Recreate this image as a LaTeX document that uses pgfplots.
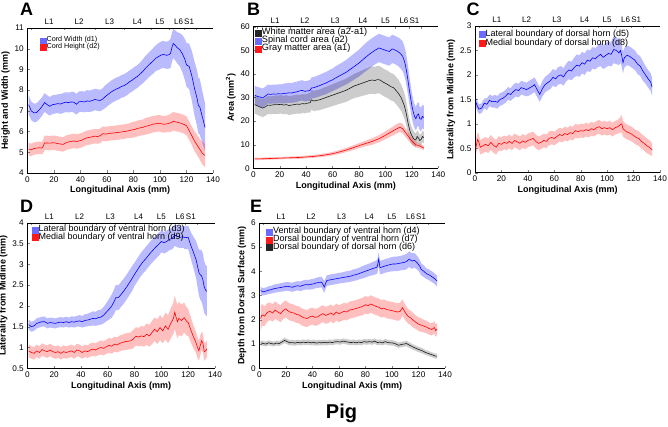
\documentclass[border=0pt]{standalone}
\usepackage{fontspec}
\setmainfont{Liberation Sans}
\usepackage{pgfplots}
\usepackage{pgfplotstable}
\usepgfplotslibrary{fillbetween}
\pgfplotsset{compat=1.18}

\definecolor{lblue}{rgb}{0,0,1}
\definecolor{lred}{rgb}{1,0,0}
\definecolor{lblack}{rgb}{0.1,0.1,0.1}
\definecolor{legblue}{rgb}{0.42,0.42,1}
\definecolor{legred}{rgb}{1,0.1,0.1}
\definecolor{legblack}{rgb}{0.15,0.15,0.15}

% ---------------- data: x (mm), mean m, half-width s ----------------
\pgfplotstableread{
x m s
1 7.30 0.45
2 7.15 0.45
3 7.00 0.45
5 6.90 0.45
7 6.92 0.45
9 7.05 0.45
11 7.20 0.45
13 7.40 0.45
15 7.30 0.45
17 7.22 0.45
19 7.30 0.45
21 7.32 0.45
23 7.35 0.45
25 7.33 0.48
27 7.38 0.48
29 7.42 0.48
31 7.40 0.48
33 7.43 0.48
35 7.42 0.50
37 7.32 0.50
39 7.44 0.50
41 7.45 0.50
43 7.43 0.50
45 7.48 0.52
47 7.46 0.52
49 7.50 0.52
51 7.55 0.52
53 7.52 0.52
55 7.50 0.52
57 7.58 0.52
59 7.70 0.55
61 7.80 0.55
63 7.90 0.55
65 7.98 0.55
67 8.05 0.55
69 8.10 0.55
71 8.18 0.55
73 8.22 0.55
75 8.30 0.55
77 8.40 0.55
79 8.48 0.55
81 8.58 0.55
83 8.66 0.55
85 8.78 0.55
87 8.90 0.58
89 9.05 0.60
91 9.18 0.60
93 9.30 0.60
95 9.42 0.62
97 9.55 0.62
99 9.62 0.65
101 9.70 0.65
103 9.72 0.65
105 9.68 0.65
107 9.72 0.68
108 9.78 0.70
109 10.05 0.70
110 10.25 0.70
111 10.20 0.72
113 10.05 0.75
115 9.95 0.80
117 9.75 0.90
119 9.45 1.00
120 9.22 1.05
122 9.15 1.10
124 8.70 1.20
126 8.10 1.30
128 7.60 1.35
129 7.25 1.35
130 7.20 1.35
132 6.70 1.25
134 6.20 1.15
}\tAw
\pgfplotstableread{
x m s
1 5.15 0.30
3 5.12 0.30
5 5.18 0.30
7 5.20 0.30
9 5.22 0.30
11 5.20 0.30
12 5.30 0.32
13 5.45 0.35
15 5.45 0.35
17 5.44 0.35
19 5.46 0.35
21 5.45 0.35
23 5.42 0.35
25 5.40 0.35
27 5.38 0.35
29 5.45 0.35
31 5.50 0.35
33 5.52 0.35
35 5.55 0.35
37 5.52 0.35
39 5.55 0.35
41 5.58 0.35
43 5.65 0.35
45 5.70 0.35
47 5.72 0.35
49 5.75 0.35
51 5.78 0.35
53 5.76 0.35
55 5.80 0.35
57 5.90 0.35
59 5.88 0.35
61 5.90 0.35
63 5.92 0.35
65 5.93 0.35
67 5.95 0.35
69 5.96 0.35
71 5.98 0.35
73 6.00 0.35
75 6.02 0.35
77 6.05 0.35
79 6.08 0.38
81 6.10 0.38
83 6.15 0.38
85 6.18 0.38
87 6.20 0.38
89 6.25 0.40
91 6.28 0.40
93 6.32 0.40
95 6.36 0.40
97 6.38 0.40
99 6.40 0.40
101 6.38 0.40
103 6.35 0.40
105 6.37 0.40
107 6.40 0.42
109 6.45 0.45
110 6.50 0.45
112 6.46 0.45
114 6.44 0.45
116 6.40 0.45
118 6.35 0.45
120 6.28 0.45
122 6.05 0.45
124 5.80 0.45
126 5.55 0.48
128 5.35 0.50
130 5.15 0.50
132 4.95 0.55
134 4.85 0.55
}\tAh
\pgfplotstableread{
x m s
1 31.0 4.0
3 30.5 4.0
5 30.2 4.0
7 29.8 4.0
9 30.5 4.0
11 31.5 4.0
13 31.3 4.0
15 31.5 4.0
17 31.4 4.0
19 31.6 4.0
21 31.5 4.0
23 31.7 4.2
25 31.8 4.2
27 32.0 4.2
29 31.9 4.2
31 32.2 4.3
33 32.4 4.3
35 32.8 4.3
37 33.0 4.3
39 32.6 4.3
41 32.8 4.3
43 33.0 4.4
44 34.0 4.5
46 34.2 4.5
48 34.6 4.5
50 35.0 4.6
52 35.5 4.6
54 35.9 4.7
56 36.4 4.7
58 37.0 4.8
60 37.5 4.8
62 38.2 4.9
64 38.8 5.0
66 39.4 5.0
68 40.0 5.1
70 40.6 5.2
72 41.4 5.3
74 42.2 5.4
76 43.0 5.5
78 43.8 5.6
80 44.6 5.7
82 45.6 5.8
84 46.6 5.9
86 47.5 6.0
88 48.4 6.0
90 49.2 6.0
92 50.0 6.0
94 50.6 6.0
95 51.0 6.0
97 50.6 6.0
99 50.2 6.0
101 49.8 6.0
103 49.5 6.0
105 50.6 6.0
107 50.2 6.0
109 49.6 6.0
111 48.8 6.2
113 47.5 6.3
114 46.0 6.3
115 44.0 6.3
116 41.0 6.2
117 37.5 6.0
118 33.5 5.8
119 30.0 5.6
120 26.5 5.4
121 24.0 5.2
122 22.0 5.0
123 21.0 5.0
124 22.5 5.0
125 23.0 5.0
126 21.0 5.0
127 20.8 5.0
128 22.0 5.0
129 21.5 5.0
}\tBs
\pgfplotstableread{
x m s
1 27.0 3.8
3 26.5 3.8
5 26.0 3.8
7 25.5 3.8
9 26.0 3.8
11 26.8 3.8
13 26.7 3.8
15 26.9 3.8
17 27.0 3.9
19 27.0 3.9
21 27.1 3.9
23 26.8 3.9
25 27.0 4.0
27 26.6 4.0
29 26.8 4.0
31 27.0 4.0
33 27.2 4.0
35 27.1 4.0
37 27.4 4.0
39 27.3 4.0
41 27.6 4.0
43 27.8 4.2
44 29.0 4.2
46 28.5 4.3
48 28.8 4.3
50 29.0 4.4
52 29.4 4.4
54 29.8 4.5
56 30.2 4.5
58 30.6 4.6
60 31.0 4.6
62 31.4 4.7
64 31.8 4.7
66 32.2 4.8
68 32.6 4.8
70 33.0 4.9
72 33.6 5.0
74 34.2 5.0
76 34.8 5.1
78 35.2 5.2
80 35.6 5.3
82 36.0 5.4
84 36.4 5.5
86 36.8 5.6
88 37.2 5.7
90 37.4 5.8
92 37.2 5.8
94 37.6 5.8
96 37.4 5.8
98 36.6 5.8
100 36.0 5.8
102 35.4 5.8
104 34.6 5.8
106 34.2 5.8
108 33.0 5.8
110 31.6 5.8
112 29.8 5.6
114 27.0 5.4
115 25.0 5.2
116 22.5 5.0
117 19.5 4.6
118 17.0 4.2
119 15.0 3.8
120 13.8 3.5
121 12.8 3.2
122 12.2 3.0
123 12.0 2.8
124 13.5 2.6
125 12.8 2.5
126 11.8 2.4
127 12.2 2.4
128 13.5 2.4
129 13.0 2.4
}\tBw
\pgfplotstableread{
x m s
1 4.0 0.5
5 4.0 0.5
10 4.1 0.5
15 4.2 0.5
20 4.3 0.5
25 4.4 0.5
30 4.5 0.55
35 4.6 0.55
40 4.8 0.6
45 5.0 0.6
50 5.3 0.65
55 5.7 0.7
60 6.2 0.75
65 6.9 0.8
70 7.7 0.9
75 8.6 1.0
80 9.6 1.1
85 10.5 1.2
90 11.4 1.4
95 12.5 1.5
100 14.0 1.7
104 15.3 1.8
108 16.6 2.0
111 17.4 2.0
113 16.8 2.0
115 15.3 1.9
117 13.8 1.7
119 12.2 1.5
121 11.0 1.3
123 10.0 1.2
125 9.6 1.0
127 9.2 1.0
129 8.6 0.9
}\tBg
\pgfplotstableread{
x m s
0.5 1.45 0.10
2 1.35 0.10
3 1.30 0.10
5 1.32 0.10
7 1.42 0.10
9 1.40 0.12
11 1.48 0.12
13 1.45 0.12
15 1.46 0.13
17 1.44 0.13
19 1.50 0.13
21 1.52 0.13
23 1.56 0.13
25 1.62 0.13
27 1.60 0.13
29 1.66 0.14
31 1.70 0.14
33 1.68 0.14
35 1.74 0.14
37 1.72 0.14
39 1.70 0.14
41 1.73 0.15
43 1.76 0.15
45 1.80 0.15
47 1.70 0.15
49 1.60 0.15
51 1.72 0.16
53 1.80 0.16
55 1.84 0.16
57 1.88 0.17
59 1.95 0.17
61 1.92 0.17
63 1.98 0.18
65 2.00 0.18
67 1.96 0.18
69 2.05 0.18
71 2.10 0.19
73 2.08 0.19
75 2.15 0.20
77 2.20 0.22
79 2.18 0.22
81 2.25 0.22
83 2.22 0.22
85 2.30 0.22
87 2.28 0.22
89 2.35 0.22
91 2.33 0.22
93 2.38 0.22
95 2.42 0.24
97 2.36 0.24
99 2.40 0.25
101 2.44 0.25
103 2.42 0.25
105 2.52 0.28
107 2.50 0.28
109 2.45 0.25
110 2.50 0.25
111 2.40 0.22
112 2.25 0.22
113 2.35 0.20
115 2.40 0.20
117 2.38 0.20
119 2.34 0.20
121 2.30 0.20
123 2.22 0.20
125 2.18 0.20
127 2.08 0.20
129 2.00 0.18
131 1.92 0.18
133 1.85 0.18
134 1.75 0.18
}\tCl
\pgfplotstableread{
x m s
0.5 0.50 0.15
2 0.68 0.15
3 0.62 0.15
4 0.52 0.15
6 0.55 0.15
8 0.58 0.15
10 0.55 0.15
12 0.62 0.15
14 0.56 0.15
16 0.52 0.15
18 0.60 0.15
20 0.58 0.14
22 0.62 0.14
24 0.60 0.14
26 0.64 0.14
28 0.60 0.14
30 0.66 0.14
32 0.63 0.14
34 0.60 0.14
36 0.65 0.14
38 0.62 0.14
40 0.66 0.14
42 0.68 0.14
44 0.70 0.14
46 0.64 0.14
48 0.60 0.14
50 0.62 0.14
52 0.66 0.14
54 0.64 0.14
56 0.70 0.14
58 0.72 0.14
60 0.70 0.14
62 0.74 0.14
64 0.78 0.14
66 0.76 0.14
68 0.80 0.14
70 0.78 0.14
72 0.82 0.14
74 0.80 0.14
76 0.86 0.14
78 0.84 0.14
80 0.86 0.14
82 0.85 0.14
84 0.88 0.14
86 0.86 0.14
88 0.90 0.14
90 0.88 0.14
92 0.92 0.14
94 0.94 0.14
96 0.90 0.14
98 0.92 0.14
100 0.90 0.14
102 0.92 0.14
104 0.88 0.14
106 0.92 0.14
108 0.94 0.14
110 0.98 0.16
111 1.00 0.18
112 0.90 0.16
114 0.85 0.15
116 0.82 0.15
118 0.80 0.15
120 0.76 0.15
122 0.72 0.15
124 0.70 0.15
126 0.64 0.15
128 0.60 0.15
130 0.55 0.15
132 0.52 0.15
134 0.47 0.13
}\tCm
\pgfplotstableread{
x m s
1 1.55 0.12
3 1.50 0.12
5 1.52 0.12
7 1.58 0.12
9 1.60 0.12
11 1.62 0.12
13 1.62 0.12
15 1.58 0.12
17 1.60 0.12
19 1.59 0.12
21 1.58 0.12
23 1.60 0.12
25 1.61 0.12
27 1.60 0.12
29 1.62 0.12
31 1.60 0.12
33 1.62 0.13
35 1.61 0.13
37 1.63 0.13
39 1.64 0.14
41 1.62 0.14
43 1.65 0.15
45 1.66 0.15
47 1.68 0.16
49 1.70 0.17
51 1.69 0.17
53 1.72 0.18
55 1.73 0.18
57 1.78 0.20
59 1.85 0.22
61 1.92 0.25
63 2.00 0.28
65 2.12 0.30
66 2.20 0.30
68 2.20 0.30
70 2.28 0.30
72 2.36 0.30
74 2.45 0.30
76 2.55 0.30
78 2.65 0.30
80 2.76 0.28
82 2.86 0.28
84 2.96 0.28
86 3.05 0.28
88 3.12 0.28
90 3.20 0.28
92 3.28 0.28
94 3.35 0.28
96 3.42 0.28
98 3.48 0.28
100 3.55 0.26
102 3.52 0.26
104 3.55 0.26
106 3.60 0.26
108 3.62 0.26
110 3.70 0.26
112 3.67 0.26
114 3.65 0.26
116 3.66 0.26
118 3.64 0.28
120 3.65 0.28
121 3.55 0.30
122 3.45 0.32
124 3.28 0.38
126 3.10 0.45
127 2.95 0.50
128 2.80 0.55
129 2.75 0.60
130 2.72 0.62
131 2.62 0.64
132 2.45 0.62
133 2.38 0.60
134 2.35 0.60
}\tDl
\pgfplotstableread{
x m s
1 0.92 0.15
3 0.88 0.15
5 0.86 0.15
7 0.92 0.15
9 0.88 0.15
11 0.95 0.15
13 0.92 0.15
15 0.90 0.15
17 0.94 0.15
19 0.90 0.15
21 0.88 0.15
23 0.90 0.15
25 0.86 0.15
27 0.90 0.15
29 0.88 0.15
31 0.90 0.15
33 0.92 0.15
35 0.88 0.15
37 0.94 0.15
39 0.92 0.15
41 0.88 0.15
43 0.92 0.15
45 0.90 0.15
47 0.94 0.16
49 0.96 0.16
51 0.94 0.16
53 0.98 0.16
55 1.00 0.17
57 0.98 0.17
59 1.02 0.17
61 1.05 0.18
63 1.03 0.18
65 1.08 0.18
67 1.06 0.18
69 1.10 0.19
71 1.12 0.19
73 1.14 0.20
75 1.15 0.20
77 1.16 0.20
79 1.20 0.22
81 1.27 0.22
83 1.25 0.22
85 1.28 0.24
87 1.26 0.24
89 1.32 0.26
91 1.28 0.26
93 1.36 0.28
95 1.44 0.28
97 1.38 0.30
99 1.48 0.30
101 1.40 0.30
103 1.52 0.32
105 1.44 0.34
107 1.58 0.36
109 1.70 0.38
110 1.85 0.40
111 1.72 0.40
112 1.62 0.40
113 1.70 0.40
115 1.65 0.38
117 1.72 0.36
119 1.62 0.34
120 1.60 0.32
122 1.42 0.30
124 1.25 0.28
125 1.18 0.26
126 1.10 0.25
127 1.00 0.25
128 0.92 0.24
129 1.05 0.24
130 1.16 0.22
131 1.10 0.22
132 0.90 0.22
133 0.92 0.20
134 0.97 0.20
}\tDm
\pgfplotstableread{
x m s
1 3.20 0.15
3 3.15 0.15
5 3.18 0.15
7 3.22 0.16
9 3.24 0.16
11 3.28 0.17
13 3.30 0.17
15 3.32 0.17
17 3.34 0.18
19 3.36 0.18
21 3.38 0.18
23 3.36 0.18
25 3.34 0.19
27 3.38 0.19
29 3.40 0.19
31 3.38 0.20
33 3.42 0.20
35 3.45 0.20
37 3.44 0.20
39 3.46 0.21
41 3.48 0.21
43 3.52 0.21
45 3.54 0.22
47 3.55 0.22
48 3.45 0.24
49 3.35 0.24
50 3.50 0.22
51 3.62 0.22
53 3.64 0.22
55 3.66 0.22
57 3.68 0.22
59 3.70 0.22
61 3.72 0.22
63 3.74 0.22
65 3.76 0.23
67 3.78 0.23
69 3.80 0.23
71 3.84 0.24
73 3.86 0.24
75 3.90 0.24
77 3.94 0.25
79 3.98 0.26
81 4.02 0.26
83 4.06 0.26
85 4.10 0.27
87 4.14 0.28
88 4.15 0.28
89 4.20 0.28
90 4.50 0.28
91 4.15 0.28
93 4.18 0.28
95 4.22 0.28
97 4.25 0.28
99 4.28 0.29
101 4.30 0.30
103 4.30 0.30
105 4.32 0.30
107 4.34 0.30
109 4.36 0.31
111 4.40 0.32
113 4.50 0.32
115 4.42 0.32
117 4.45 0.30
119 4.35 0.28
121 4.20 0.26
122 4.08 0.25
124 4.00 0.24
126 3.90 0.22
128 3.85 0.22
130 3.78 0.22
132 3.70 0.22
134 3.60 0.22
}\tEv
\pgfplotstableread{
x m s
1 2.05 0.50
2 2.20 0.45
4 2.15 0.40
6 2.30 0.38
8 2.35 0.36
10 2.28 0.36
12 2.40 0.36
14 2.32 0.35
16 2.25 0.35
18 2.38 0.35
20 2.45 0.35
22 2.35 0.35
24 2.30 0.35
26 2.28 0.35
28 2.22 0.35
30 2.20 0.35
32 2.12 0.35
34 2.08 0.35
36 2.05 0.35
38 2.12 0.35
40 2.15 0.35
42 2.10 0.35
44 2.12 0.35
46 2.20 0.35
48 2.25 0.35
50 2.18 0.35
52 2.22 0.35
54 2.28 0.35
56 2.20 0.35
58 2.32 0.35
60 2.25 0.35
62 2.30 0.35
64 2.35 0.35
66 2.32 0.35
68 2.40 0.35
70 2.42 0.35
72 2.45 0.35
74 2.48 0.35
76 2.52 0.35
78 2.55 0.36
80 2.62 0.36
82 2.58 0.36
84 2.65 0.36
86 2.60 0.36
88 2.55 0.36
90 2.52 0.36
92 2.45 0.36
94 2.48 0.36
96 2.42 0.36
98 2.40 0.36
100 2.38 0.36
102 2.35 0.36
104 2.32 0.36
106 2.34 0.36
108 2.50 0.34
110 2.30 0.32
112 2.15 0.30
114 2.08 0.30
116 1.98 0.30
118 1.90 0.28
120 1.82 0.28
122 1.78 0.28
124 1.74 0.26
126 1.70 0.26
128 1.64 0.25
130 1.60 0.25
132 1.68 0.25
133 1.55 0.25
134 1.62 0.25
}\tEd
\pgfplotstableread{
x m s
1 1.05 0.10
3 1.02 0.10
5 1.00 0.10
7 1.05 0.10
9 1.02 0.10
11 1.00 0.10
13 1.04 0.10
15 1.02 0.10
17 1.08 0.10
19 1.15 0.11
21 1.10 0.11
23 1.05 0.11
25 1.06 0.11
27 1.04 0.11
29 1.07 0.11
31 1.05 0.11
33 1.08 0.11
35 1.06 0.11
37 1.08 0.11
39 1.05 0.11
41 1.07 0.11
43 1.04 0.11
45 1.06 0.11
47 1.05 0.11
49 1.07 0.11
51 1.05 0.11
53 1.08 0.11
55 1.06 0.11
57 1.09 0.11
59 1.10 0.11
61 1.08 0.11
63 1.12 0.11
65 1.10 0.11
67 1.08 0.11
69 1.06 0.11
71 1.08 0.11
73 1.05 0.11
75 1.08 0.11
77 1.06 0.11
79 1.10 0.11
81 1.08 0.11
83 1.10 0.11
85 1.08 0.11
87 1.12 0.11
89 1.06 0.11
91 1.08 0.11
93 1.05 0.11
95 1.10 0.11
97 1.06 0.11
99 1.05 0.11
101 1.04 0.11
103 1.00 0.11
105 0.95 0.11
107 0.98 0.11
109 1.00 0.11
111 1.02 0.11
113 0.96 0.11
115 0.90 0.11
117 0.85 0.11
119 0.80 0.11
121 0.76 0.11
123 0.72 0.11
125 0.66 0.10
127 0.62 0.10
129 0.58 0.10
131 0.54 0.10
133 0.50 0.10
134 0.50 0.10
}\tEk

\newcommand{\lfA}{\fontsize{7.2}{8}\selectfont}
\newcommand{\lfB}{\fontsize{9.2}{10}\selectfont}
\newcommand{\lfC}{\fontsize{9}{10}\selectfont}

\pgfplotsset{
  sq/.style={legend image code/.code={\fill[#1] (0pt,-3pt) rectangle (6pt,3pt);}},
  panel/.style={
    scale only axis, axis lines*=left, tick align=inside,
    major tick length=2.5pt,
    xmin=0, xmax=140, xtick={0,20,...,140},
    tick label style={font=\fontsize{8.2}{9}\selectfont},
    label style={font=\bfseries\fontsize{9}{10}\selectfont},
    xlabel={Longitudinal Axis (mm)},
    xlabel style={yshift=3pt},
    ylabel style={yshift=-2pt},
    /pgf/number format/assume math mode=true,
    legend cell align=left,
    legend style={draw=none, fill=none, anchor=north west, inner sep=0pt, row sep=0pt},
  },
  legrow/.style={legend style={nodes={inner sep=0.6pt, text height=#1, text depth=1.6pt}}},
  toppanel/.style={
    scale only axis, axis x line*=top, hide y axis, tick align=inside,
    major tick length=2.5pt,
    xmin=0, xmax=140, ymin=0, ymax=1,
    xtick={3,28,51,73,93,107,118,127}, xticklabels={},
    extra x ticks={16.5,39,62,83,100,114,122},
    extra x tick labels={L1,L2,L3,L4,L5,L6,S1},
    extra x tick style={major tick length=0pt},
    tick label style={font=\fontsize{8}{9}\selectfont},
  },
  bandedge/.style={draw=none, forget plot},
  mline/.style={line width=0.6pt, forget plot},
}

\begin{document}
\begin{tikzpicture}

% ================= A =================
\begin{axis}[panel, at={(27.3pt,253pt)}, anchor=south west, width=185.7pt, height=145pt,
  ymin=4, ymax=11, ytick={4,5,...,11}, ylabel={Height and Width (mm)},
  legrow=3.3pt, legend style={at={(0.065,0.935)}}]
\addplot[bandedge, name path=awu] table[x=x, y expr=\thisrow{m}+\thisrow{s}] {\tAw};
\addplot[bandedge, name path=awl] table[x=x, y expr=\thisrow{m}-\thisrow{s}] {\tAw};
\addplot[fill=lblue, fill opacity=0.27, draw=none, forget plot] fill between[of=awu and awl];
\addplot[bandedge, name path=ahu] table[x=x, y expr=\thisrow{m}+\thisrow{s}] {\tAh};
\addplot[bandedge, name path=ahl] table[x=x, y expr=\thisrow{m}-\thisrow{s}] {\tAh};
\addplot[fill=lred, fill opacity=0.25, draw=none, forget plot] fill between[of=ahu and ahl];
\addplot[mline, lblue] table[x=x, y=m] {\tAw};
\addplot[mline, lred] table[x=x, y=m] {\tAh};
\addlegendimage{sq=legblue}\addlegendentry{\lfA Cord Width (d1)}
\addlegendimage{sq=legred}\addlegendentry{\lfA Cord Height (d2)}
\end{axis}
\begin{axis}[toppanel, at={(27.3pt,253pt)}, anchor=south west, width=185.7pt, height=145pt]
\addplot[draw=none, forget plot] coordinates {(0,0) (140,1)};
\end{axis}

% ================= B =================
\begin{axis}[panel, at={(253.3pt,257.7pt)}, anchor=south west, width=185pt, height=141.6pt,
  ymin=0, ymax=60, ytick={0,10,...,60}, ylabel={Area (mm\textsuperscript{2})},
  legrow=5.1pt, legend style={at={(0.008,0.985)}}]
\addplot[bandedge, name path=bsu] table[x=x, y expr=\thisrow{m}+\thisrow{s}] {\tBs};
\addplot[bandedge, name path=bsl] table[x=x, y expr=\thisrow{m}-\thisrow{s}] {\tBs};
\addplot[fill=lblue, fill opacity=0.27, draw=none, forget plot] fill between[of=bsu and bsl];
\addplot[bandedge, name path=bwu] table[x=x, y expr=\thisrow{m}+\thisrow{s}] {\tBw};
\addplot[bandedge, name path=bwl] table[x=x, y expr=\thisrow{m}-\thisrow{s}] {\tBw};
\addplot[fill=black, fill opacity=0.2, draw=none, forget plot] fill between[of=bwu and bwl];
\addplot[bandedge, name path=bgu] table[x=x, y expr=\thisrow{m}+\thisrow{s}] {\tBg};
\addplot[bandedge, name path=bgl] table[x=x, y expr=\thisrow{m}-\thisrow{s}] {\tBg};
\addplot[fill=lred, fill opacity=0.25, draw=none, forget plot] fill between[of=bgu and bgl];
\addplot[mline, lblue] table[x=x, y=m] {\tBs};
\addplot[mline, lblack] table[x=x, y=m] {\tBw};
\addplot[mline, lred] table[x=x, y=m] {\tBg};
\addlegendimage{sq=legblack}\addlegendentry{\lfB White matter area (a2-a1)}
\addlegendimage{sq=legblue}\addlegendentry{\lfB Spinal cord area (a2)}
\addlegendimage{sq=legred}\addlegendentry{\lfB Gray matter area (a1)}
\end{axis}
\begin{axis}[toppanel, at={(253.3pt,257.7pt)}, anchor=south west, width=185pt, height=141.6pt]
\addplot[draw=none, forget plot] coordinates {(0,0) (140,1)};
\end{axis}

% ================= C =================
\begin{axis}[panel, at={(475pt,253.3pt)}, anchor=south west, width=185pt, height=146.7pt,
  ymin=0, ymax=3, ytick={0,0.5,...,3}, ylabel={Laterality from Midline (mm)},
  legrow=6.2pt, legend style={at={(0.018,0.978)}}]
\addplot[bandedge, name path=clu] table[x=x, y expr=\thisrow{m}+\thisrow{s}] {\tCl};
\addplot[bandedge, name path=cll] table[x=x, y expr=\thisrow{m}-\thisrow{s}] {\tCl};
\addplot[fill=lblue, fill opacity=0.27, draw=none, forget plot] fill between[of=clu and cll];
\addplot[bandedge, name path=cmu] table[x=x, y expr=\thisrow{m}+\thisrow{s}] {\tCm};
\addplot[bandedge, name path=cml] table[x=x, y expr=\thisrow{m}-\thisrow{s}] {\tCm};
\addplot[fill=lred, fill opacity=0.25, draw=none, forget plot] fill between[of=cmu and cml];
\addplot[mline, lblue] table[x=x, y=m] {\tCl};
\addplot[mline, lred] table[x=x, y=m] {\tCm};
\addlegendimage{sq=legblue}\addlegendentry{\lfC Lateral boundary of dorsal horn (d5)}
\addlegendimage{sq=legred}\addlegendentry{\lfC Medial boundary of dorsal horn (d8)}
\end{axis}
\begin{axis}[toppanel, at={(475pt,253.3pt)}, anchor=south west, width=185pt, height=146.7pt]
\addplot[draw=none, forget plot] coordinates {(0,0) (140,1)};
\end{axis}

% ================= D =================
\begin{axis}[panel, at={(27.3pt,57.7pt)}, anchor=south west, width=187.7pt, height=145.6pt,
  ymin=0.5, ymax=4, ytick={0.5,1,...,4}, ylabel={Laterality from Midline (mm)},
  legrow=4.9pt, legend style={at={(0.022,0.978)}}]
\addplot[bandedge, name path=dlu] table[x=x, y expr=\thisrow{m}+\thisrow{s}] {\tDl};
\addplot[bandedge, name path=dll] table[x=x, y expr=\thisrow{m}-\thisrow{s}] {\tDl};
\addplot[fill=lblue, fill opacity=0.27, draw=none, forget plot] fill between[of=dlu and dll];
\addplot[bandedge, name path=dmu] table[x=x, y expr=\thisrow{m}+\thisrow{s}] {\tDm};
\addplot[bandedge, name path=dml] table[x=x, y expr=\thisrow{m}-\thisrow{s}] {\tDm};
\addplot[fill=lred, fill opacity=0.25, draw=none, forget plot] fill between[of=dmu and dml];
\addplot[mline, lblue] table[x=x, y=m] {\tDl};
\addplot[mline, lred] table[x=x, y=m] {\tDm};
\addlegendimage{sq=legblue}\addlegendentry{\lfC Lateral boundary of ventral horn (d3)}
\addlegendimage{sq=legred}\addlegendentry{\lfC Medial boundary of ventral horn (d9)}
\end{axis}
\begin{axis}[toppanel, at={(27.3pt,57.7pt)}, anchor=south west, width=187.7pt, height=145.6pt]
\addplot[draw=none, forget plot] coordinates {(0,0) (140,1)};
\end{axis}

% ================= E =================
\begin{axis}[panel, at={(259.3pt,57.7pt)}, anchor=south west, width=185.7pt, height=145.6pt,
  ymin=0, ymax=6, ytick={0,1,...,6}, ylabel={Depth from Dorsal Surface (mm)},
  legrow=4.9pt, legend style={at={(0.035,0.962)}}]
\addplot[bandedge, name path=evu] table[x=x, y expr=\thisrow{m}+\thisrow{s}] {\tEv};
\addplot[bandedge, name path=evl] table[x=x, y expr=\thisrow{m}-\thisrow{s}] {\tEv};
\addplot[fill=lblue, fill opacity=0.27, draw=none, forget plot] fill between[of=evu and evl];
\addplot[bandedge, name path=edu] table[x=x, y expr=\thisrow{m}+\thisrow{s}] {\tEd};
\addplot[bandedge, name path=edl] table[x=x, y expr=\thisrow{m}-\thisrow{s}] {\tEd};
\addplot[fill=lred, fill opacity=0.25, draw=none, forget plot] fill between[of=edu and edl];
\addplot[bandedge, name path=eku] table[x=x, y expr=\thisrow{m}+\thisrow{s}] {\tEk};
\addplot[bandedge, name path=ekl] table[x=x, y expr=\thisrow{m}-\thisrow{s}] {\tEk};
\addplot[fill=black, fill opacity=0.2, draw=none, forget plot] fill between[of=eku and ekl];
\addplot[mline, lblue] table[x=x, y=m] {\tEv};
\addplot[mline, lred] table[x=x, y=m] {\tEd};
\addplot[mline, lblack] table[x=x, y=m] {\tEk};
\addlegendimage{sq=legblue}\addlegendentry{\lfC Ventral boundary of ventral horn (d4)}
\addlegendimage{sq=legred}\addlegendentry{\lfC Dorsal boundary of ventral horn (d7)}
\addlegendimage{sq=legblack}\addlegendentry{\lfC Dorsal boundary of dorsal horn (d6)}
\end{axis}
\begin{axis}[toppanel, at={(259.3pt,57.7pt)}, anchor=south west, width=185.7pt, height=145.6pt]
\addplot[draw=none, forget plot] coordinates {(0,0) (140,1)};
\end{axis}

% panel letters and title
\node[anchor=base west, inner sep=0pt, font=\bfseries\fontsize{18}{18}\selectfont] at (20pt,410pt) {A};
\node[anchor=base west, inner sep=0pt, font=\bfseries\fontsize{18}{18}\selectfont] at (247pt,410pt) {B};
\node[anchor=base west, inner sep=0pt, font=\bfseries\fontsize{18}{18}\selectfont] at (466.5pt,410pt) {C};
\node[anchor=base west, inner sep=0pt, font=\bfseries\fontsize{18}{18}\selectfont] at (20pt,214pt) {D};
\node[anchor=base west, inner sep=0pt, font=\bfseries\fontsize{18}{18}\selectfont] at (250pt,214pt) {E};
\node[anchor=base, inner sep=0pt, font=\bfseries\fontsize{20}{20}\selectfont] at (341.5pt,8pt) {Pig};
\pgfresetboundingbox
\path[use as bounding box] (0pt,0pt) rectangle (668pt,426pt);
\end{tikzpicture}
\end{document}
